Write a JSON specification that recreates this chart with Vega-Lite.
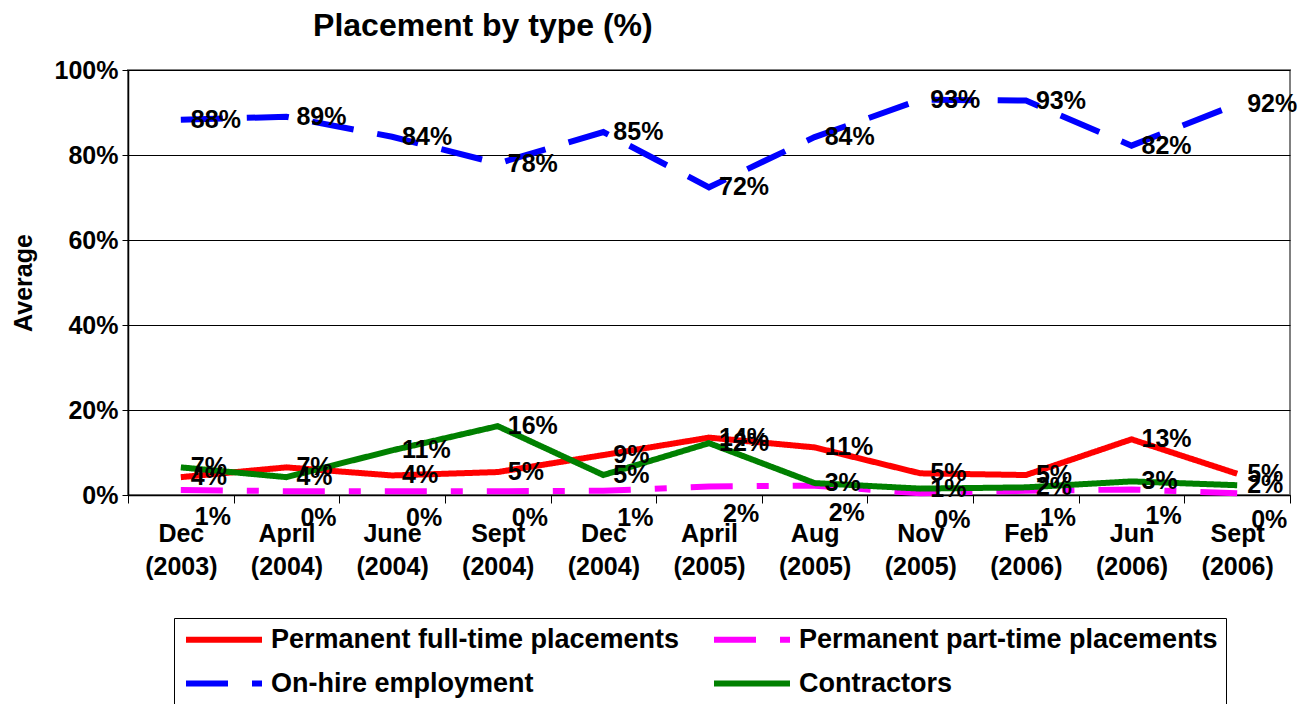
{
  "$schema": "https://vega.github.io/schema/vega-lite/v6.json",
  "width": 1162,
  "height": 425,
  "autosize": {"type": "none"},
  "padding": {"left": 128, "top": 70, "right": 10, "bottom": 209},
  "background": "white",
  "title": {"text": "Placement by type (%)", "anchor": "start", "dx": 302, "offset": 15, "fontSize": 32, "font": "Liberation Sans", "fontWeight": "bold", "color": "black"},
  "config": {
    "view": {"stroke": "#808080", "strokeWidth": 2},
    "font": "Liberation Sans"
  },
  "data": {"values": [
    {"period": "Dec (2003)", "series": "Permanent full-time placements", "value": 4.2, "label": "4%"},
    {"period": "April (2004)", "series": "Permanent full-time placements", "value": 6.5, "label": "7%"},
    {"period": "June (2004)", "series": "Permanent full-time placements", "value": 4.6, "label": "4%"},
    {"period": "Sept (2004)", "series": "Permanent full-time placements", "value": 5.4, "label": "5%"},
    {"period": "Dec (2004)", "series": "Permanent full-time placements", "value": 9.4, "label": "9%"},
    {"period": "April (2005)", "series": "Permanent full-time placements", "value": 13.5, "label": "14%"},
    {"period": "Aug (2005)", "series": "Permanent full-time placements", "value": 11.2, "label": "11%"},
    {"period": "Nov (2005)", "series": "Permanent full-time placements", "value": 5.1, "label": "5%"},
    {"period": "Feb (2006)", "series": "Permanent full-time placements", "value": 4.7, "label": "5%"},
    {"period": "Jun (2006)", "series": "Permanent full-time placements", "value": 13.1, "label": "13%"},
    {"period": "Sept (2006)", "series": "Permanent full-time placements", "value": 5.0, "label": "5%"},
    {"period": "Dec (2003)", "series": "Permanent part-time placements", "value": 1.2, "label": "1%"},
    {"period": "April (2004)", "series": "Permanent part-time placements", "value": 0.9, "label": "0%"},
    {"period": "June (2004)", "series": "Permanent part-time placements", "value": 0.9, "label": "0%"},
    {"period": "Sept (2004)", "series": "Permanent part-time placements", "value": 0.9, "label": "0%"},
    {"period": "Dec (2004)", "series": "Permanent part-time placements", "value": 1.0, "label": "1%"},
    {"period": "April (2005)", "series": "Permanent part-time placements", "value": 2.0, "label": "2%"},
    {"period": "Aug (2005)", "series": "Permanent part-time placements", "value": 2.2, "label": "2%"},
    {"period": "Nov (2005)", "series": "Permanent part-time placements", "value": 0.4, "label": "0%"},
    {"period": "Feb (2006)", "series": "Permanent part-time placements", "value": 1.0, "label": "1%"},
    {"period": "Jun (2006)", "series": "Permanent part-time placements", "value": 1.3, "label": "1%"},
    {"period": "Sept (2006)", "series": "Permanent part-time placements", "value": 0.4, "label": "0%"},
    {"period": "Dec (2003)", "series": "On-hire employment", "value": 88.3, "label": "88%"},
    {"period": "April (2004)", "series": "On-hire employment", "value": 89.0, "label": "89%"},
    {"period": "June (2004)", "series": "On-hire employment", "value": 84.3, "label": "84%"},
    {"period": "Sept (2004)", "series": "On-hire employment", "value": 78.0, "label": "78%"},
    {"period": "Dec (2004)", "series": "On-hire employment", "value": 85.4, "label": "85%"},
    {"period": "April (2005)", "series": "On-hire employment", "value": 72.4, "label": "72%"},
    {"period": "Aug (2005)", "series": "On-hire employment", "value": 84.2, "label": "84%"},
    {"period": "Nov (2005)", "series": "On-hire employment", "value": 93.0, "label": "93%"},
    {"period": "Feb (2006)", "series": "On-hire employment", "value": 92.8, "label": "93%"},
    {"period": "Jun (2006)", "series": "On-hire employment", "value": 82.2, "label": "82%"},
    {"period": "Sept (2006)", "series": "On-hire employment", "value": 92.0, "label": "92%"},
    {"period": "Dec (2003)", "series": "Contractors", "value": 6.5, "label": "7%"},
    {"period": "April (2004)", "series": "Contractors", "value": 4.2, "label": "4%"},
    {"period": "June (2004)", "series": "Contractors", "value": 10.5, "label": "11%"},
    {"period": "Sept (2004)", "series": "Contractors", "value": 16.2, "label": "16%"},
    {"period": "Dec (2004)", "series": "Contractors", "value": 4.7, "label": "5%"},
    {"period": "April (2005)", "series": "Contractors", "value": 12.2, "label": "12%"},
    {"period": "Aug (2005)", "series": "Contractors", "value": 2.8, "label": "3%"},
    {"period": "Nov (2005)", "series": "Contractors", "value": 1.5, "label": "1%"},
    {"period": "Feb (2006)", "series": "Contractors", "value": 1.8, "label": "2%"},
    {"period": "Jun (2006)", "series": "Contractors", "value": 3.2, "label": "3%"},
    {"period": "Sept (2006)", "series": "Contractors", "value": 2.3, "label": "2%"}
  ]},
  "encoding": {
    "x": {
      "field": "period", "type": "nominal", "sort": null,
      "scale": {"type": "band", "paddingInner": 0, "paddingOuter": 0},
      "axis": {
        "title": null, "labelAngle": 0, "labelOverlap": false,
        "labelExpr": "split(datum.label, ' ')",
        "labelFont": "Liberation Sans", "labelFontWeight": "bold", "labelFontSize": 25, "labelColor": "black",
        "labelLineHeight": 33, "labelBaseline": "top", "labelPadding": 18,
        "tickBand": "extent", "tickSize": 8, "tickColor": "black", "tickWidth": 1,
        "domainColor": "black", "domainWidth": 1.5, "grid": false
      }
    },
    "y": {
      "field": "value", "type": "quantitative",
      "scale": {"domain": [0, 100], "nice": false},
      "axis": {
        "title": "Average", "titleFont": "Liberation Sans", "titleFontWeight": "bold", "titleFontSize": 25, "titleColor": "black", "titlePadding": 18,
        "values": [0, 20, 40, 60, 80, 100],
        "labelExpr": "datum.value + '%'",
        "labelFont": "Liberation Sans", "labelFontWeight": "bold", "labelFontSize": 25, "labelColor": "black", "labelPadding": 4,
        "tickSize": 6, "tickColor": "black", "domainColor": "black", "domainWidth": 1.5,
        "grid": true, "gridColor": "black", "gridWidth": 1
      }
    }
  },
  "layer": [
    {
      "mark": {"type": "line", "strokeWidth": 6},
      "encoding": {
        "color": {
          "field": "series", "type": "nominal",
          "scale": {
            "domain": ["Permanent full-time placements", "Permanent part-time placements", "On-hire employment", "Contractors"],
            "range": ["#FF0000", "#FF00FF", "#0000FF", "#008000"]
          },
          "legend": {
            "title": null, "orient": "none", "legendX": 46, "legendY": 548,
            "columns": 2, "direction": "horizontal", "gridAlign": "all",
            "columnPadding": 12, "rowPadding": 16,
            "symbolType": "M-1,0H7", "symbolSize": 361, "symbolStrokeWidth": 6,
            "labelFont": "Liberation Sans", "labelFontWeight": "bold", "labelFontSize": 27, "labelColor": "black", "labelOffset": 62, "labelLimit": 700,
            "strokeColor": "black", "padding": 8
          }
        },
        "strokeDash": {
          "field": "series", "type": "nominal",
          "scale": {
            "domain": ["Permanent full-time placements", "Permanent part-time placements", "On-hire employment", "Contractors"],
            "range": [[1, 0], [42, 24, 12, 24], [42, 24], [1, 0]]
          },
          "legend": null
        },
        "detail": {"field": "series"}
      }
    },
    {
      "transform": [{"filter": "datum.series != 'Permanent part-time placements'"}],
      "mark": {"type": "text", "align": "left", "baseline": "middle", "dx": 10, "font": "Liberation Sans", "fontWeight": "bold", "fontSize": 25, "color": "black"},
      "encoding": {"text": {"field": "label"}}
    },
    {
      "transform": [{"filter": "datum.series == 'Permanent part-time placements'"}],
      "mark": {"type": "text", "align": "left", "baseline": "middle", "dx": 14, "dy": 27, "font": "Liberation Sans", "fontWeight": "bold", "fontSize": 25, "color": "black"},
      "encoding": {"text": {"field": "label"}}
    }
  ]
}
